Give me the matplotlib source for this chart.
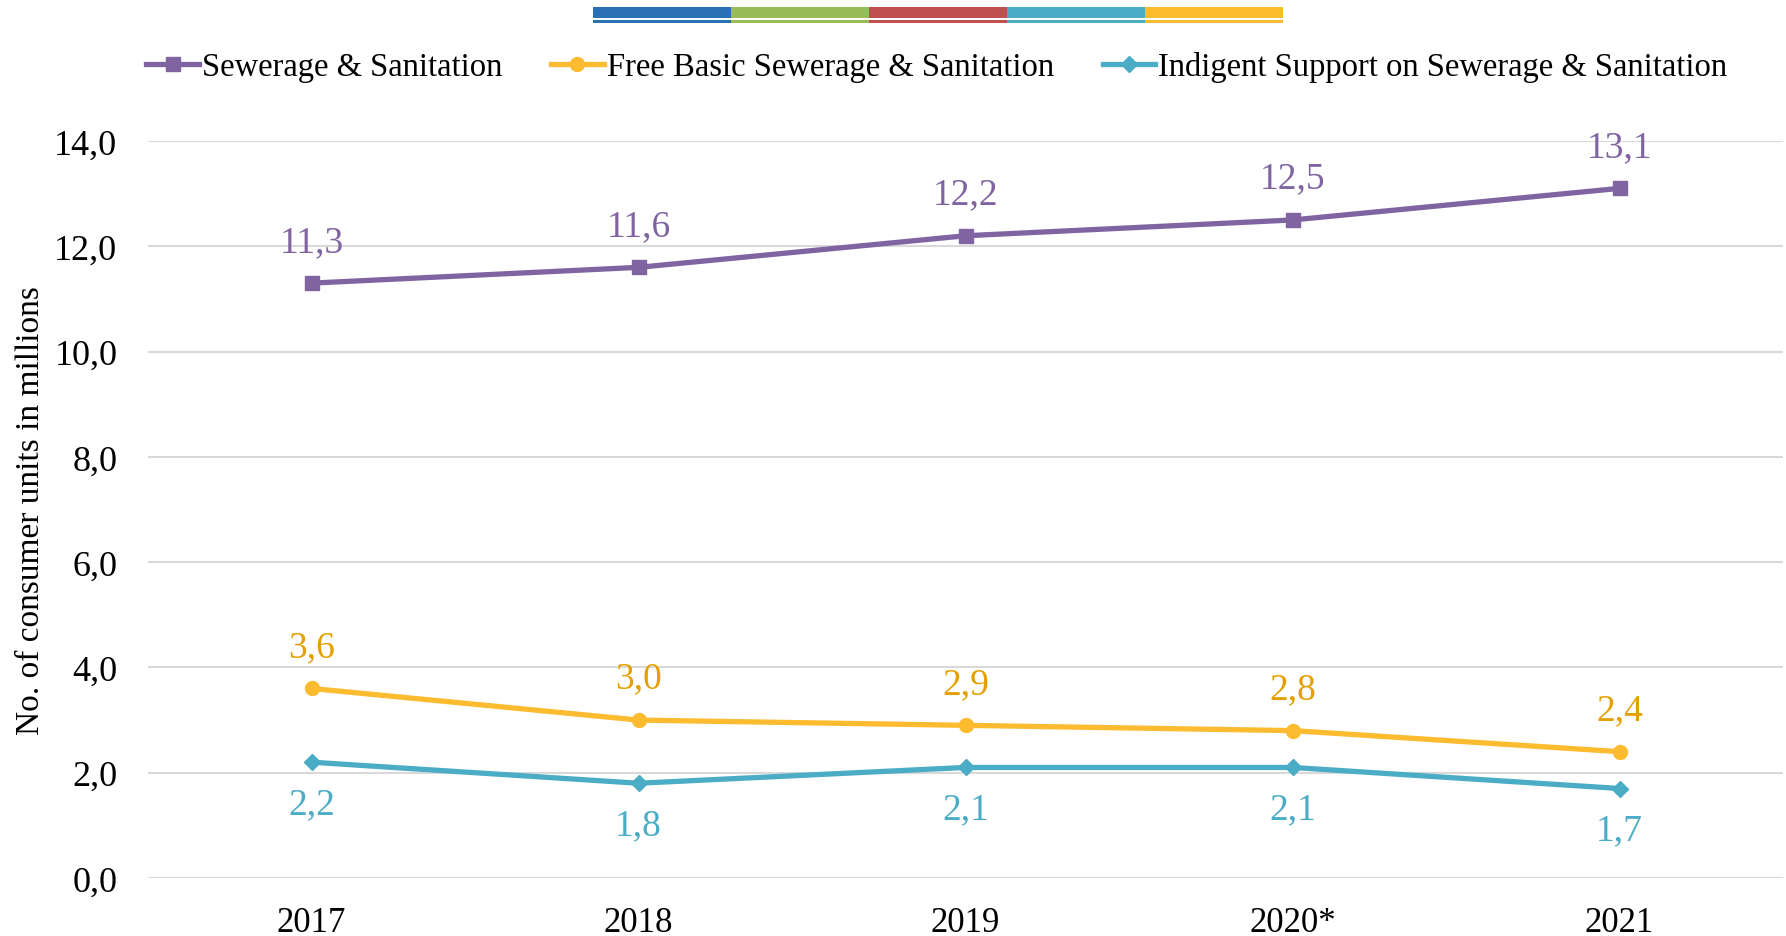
import matplotlib
matplotlib.use("Agg")
import matplotlib.pyplot as plt
from matplotlib.patches import Rectangle

plt.rcParams['font.family'] = ['Liberation Serif', 'DejaVu Serif']

years = ["2017", "2018", "2019", "2020*", "2021"]
sewerage = [11.3, 11.6, 12.2, 12.5, 13.1]
free_basic = [3.6, 3.0, 2.9, 2.8, 2.4]
indigent = [2.2, 1.8, 2.1, 2.1, 1.7]
yticks = [0, 2, 4, 6, 8, 10, 12, 14]
bar_colors = ["#2A71B3", "#9BBB59", "#C0504D", "#4BACC6", "#FBBC2E"]

c_purple = "#8064A2"
c_yellow = "#FDBB30"
c_yellow_lbl = "#E5A000"
c_teal = "#4BACC6"

fig = plt.figure(figsize=(17.86, 9.37), dpi=100)
ax = fig.add_axes([148/1786, 1-879/937, (1783-148)/1786, (879-142)/937])

x = list(range(len(years)))
series = [
    ("Sewerage & Sanitation", sewerage, c_purple, c_purple, "s", 10, 1),
    ("Free Basic Sewerage & Sanitation", free_basic, c_yellow, c_yellow_lbl, "o", 10, 1),
    ("Indigent Support on Sewerage & Sanitation", indigent, c_teal, c_teal, "D", 8, -1),
]
handles = []
for name, vals, col, lcol, mk, ms, side in series:
    h, = ax.plot(x, vals, color=col, lw=3.8, marker=mk, markersize=ms,
                 clip_on=False, zorder=3, label=name)
    handles.append(h)
    for xi, v in zip(x, vals):
        ax.annotate(f"{v:.1f}".replace(".", ","), (xi, v),
                    xytext=(0, 30*side), textcoords="offset points",
                    ha="center", va="center", color=lcol, fontsize=27)

ax.set_xlim(-0.5, len(years)-0.5)
ax.set_ylim(0, 14)
ax.set_yticks(yticks)
ax.set_yticklabels([f"{t:.1f}".replace(".", ",") for t in yticks])
ax.set_xticks(x)
ax.set_xticklabels(years)
ax.grid(axis="y", color="#D9D9D9", lw=1.5)
ax.set_axisbelow(True)
for s in ax.spines.values():
    s.set_visible(False)
ax.tick_params(axis="y", length=0, labelsize=26, pad=22)
ax.tick_params(axis="x", length=0, labelsize=25, pad=20)
ax.set_ylabel("No. of consumer units in millions", fontsize=24, labelpad=6)

leg = fig.legend(handles=handles, loc="center", bbox_to_anchor=(937/1786, 1-68/937),
                 ncol=3, frameon=False, fontsize=23.5, handlelength=1.6,
                 handletextpad=0.1, columnspacing=1.5)

# decorative colour bar at top
x0, x1 = 593/1786, 1283/1786
w = (x1 - x0) / len(bar_colors)
for i, c in enumerate(bar_colors):
    fig.patches.append(Rectangle((x0 + i*w, 1-19/937), w, 11/937,
                                 transform=fig.transFigure, color=c, lw=0))
    fig.patches.append(Rectangle((x0 + i*w, 1-24/937), w, 3/937,
                                 transform=fig.transFigure, color=c, lw=0))

fig.savefig("out.png", dpi=100)
